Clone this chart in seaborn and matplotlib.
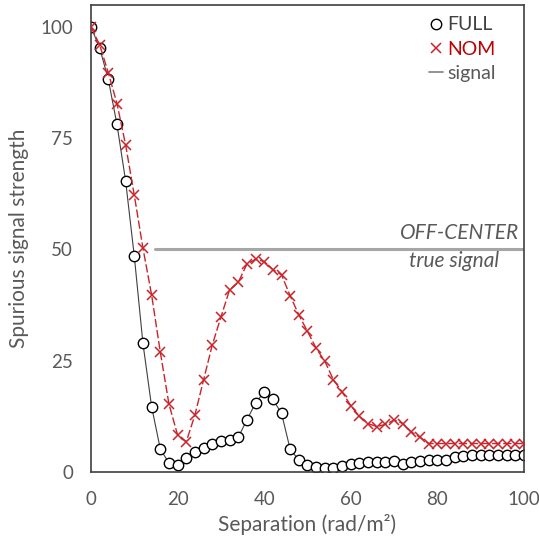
import matplotlib
matplotlib.use("Agg")
import matplotlib.pyplot as plt
import seaborn as sns
import pandas as pd
from matplotlib.lines import Line2D

# ---- data ----
separation = [0, 2, 4, 6, 8, 10, 12, 14, 16, 18, 20, 22, 24, 26, 28, 30, 32, 34, 36, 38,
              40, 42, 44, 46, 48, 50, 52, 54, 56, 58, 60, 62, 64, 66, 68, 70, 72, 74, 76, 78,
              80, 82, 84, 86, 88, 90, 92, 94, 96, 98, 100]
full_vals = [100, 95.3, 88.2, 78.1, 65.4, 48.5, 28.9, 14.7, 5.2, 2.0, 1.6, 3.2, 4.4, 5.5, 6.3,
             6.9, 7.3, 7.8, 11.7, 15.5, 18.0, 16.3, 13.2, 5.1, 2.7, 1.6, 1.2, 1.0, 1.0, 1.3,
             1.9, 2.1, 2.2, 2.2, 2.2, 2.5, 1.9, 2.2, 2.5, 2.7, 2.7, 2.7, 3.3, 3.6, 3.8, 3.8,
             3.8, 3.8, 3.8, 3.9, 3.8]
nom_vals = [100, 96.0, 89.7, 82.8, 73.5, 62.2, 50.3, 39.8, 27.0, 15.3, 8.3, 6.8, 12.8, 20.7,
            28.5, 34.8, 40.9, 42.6, 46.7, 47.8, 47.3, 45.5, 44.3, 39.6, 35.3, 31.6, 27.8,
            24.9, 20.7, 18.0, 14.9, 12.5, 10.9, 10.2, 10.7, 11.7, 10.9, 9.0, 7.8, 6.4, 6.4,
            6.4, 6.4, 6.4, 6.4, 6.4, 6.4, 6.4, 6.4, 6.4, 6.4]
signal_x = [14.8, 100]
signal_y = [50, 50]
x_ticks = [0, 20, 40, 60, 80, 100]
y_ticks = [0, 25, 50, 75, 100]
legend_labels = ["FULL", "NOM", "signal"]

sns.set_style("white")
plt.rcParams['font.family'] = ['Lato', 'DejaVu Sans']

TXT = '#595959'
RED = '#cc2229'
MS = 7.5

fig = plt.figure(figsize=(5.39, 5.41), dpi=100)
ax = fig.add_axes([0.1688, 0.1275, 0.9722 - 0.1688, 0.9913 - 0.1275])

df = pd.DataFrame({"sep": separation, "full": full_vals, "nom": nom_vals})
sig = pd.DataFrame({"x": signal_x, "y": signal_y})

sns.lineplot(data=sig, x="x", y="y", ax=ax, color='#a6a6a6', linewidth=2.2, zorder=1)
sns.lineplot(data=df, x="sep", y="full", ax=ax, color='#404040', linewidth=0.8,
             marker='o', markersize=MS, markerfacecolor='white', markeredgecolor='black',
             markeredgewidth=1.0, zorder=2)
sns.lineplot(data=df, x="sep", y="nom", ax=ax, color=RED, linewidth=1.0,
             linestyle=(0, (6, 2)), marker='x', markersize=MS, markeredgecolor=RED,
             markeredgewidth=1.1, zorder=3)

ax.set_xlim(0, 100)
ax.set_ylim(0, 105)
ax.set_xticks(x_ticks)
ax.set_yticks(y_ticks)
ax.tick_params(axis='both', direction='in', length=5, width=1, colors='#404040',
               labelcolor=TXT, labelsize=13.5)
ax.tick_params(axis='x', pad=14)
ax.tick_params(axis='y', pad=13)
for s in ax.spines.values():
    s.set_color('#404040')
    s.set_linewidth(1.2)
    s.set_visible(True)

ax.set_xlabel("Separation (rad/m²)", fontsize=15, color=TXT, labelpad=4)
ax.set_ylabel("Spurious signal strength", fontsize=15, color=TXT, labelpad=8)

ax.text(98.8, 53.6, "OFF-CENTER", ha='right', va='center', fontsize=15,
        style='italic', color=TXT)
ax.text(94.3, 47.4, "true signal", ha='right', va='center', fontsize=15,
        style='italic', color=TXT)

handles = [
    Line2D([], [], linestyle='none', marker='o', markersize=MS, markerfacecolor='white',
           markeredgecolor='black', markeredgewidth=1.0),
    Line2D([], [], linestyle='none', marker='x', markersize=MS, markeredgecolor=RED,
           markeredgewidth=1.1),
    Line2D([0.35, 0.75], [0, 0], color='#808080', linewidth=1.2),
]
leg = ax.legend(handles, legend_labels, loc='upper right', bbox_to_anchor=(0.935, 0.975),
                frameon=False, fontsize=14, handlelength=0.7, handletextpad=0.25,
                labelspacing=0.38, borderpad=0, borderaxespad=0)
for t, c in zip(leg.get_texts(), ['#404040', '#c00000', TXT]):
    t.set_color(c)

fig.savefig("out.png", dpi=100)
